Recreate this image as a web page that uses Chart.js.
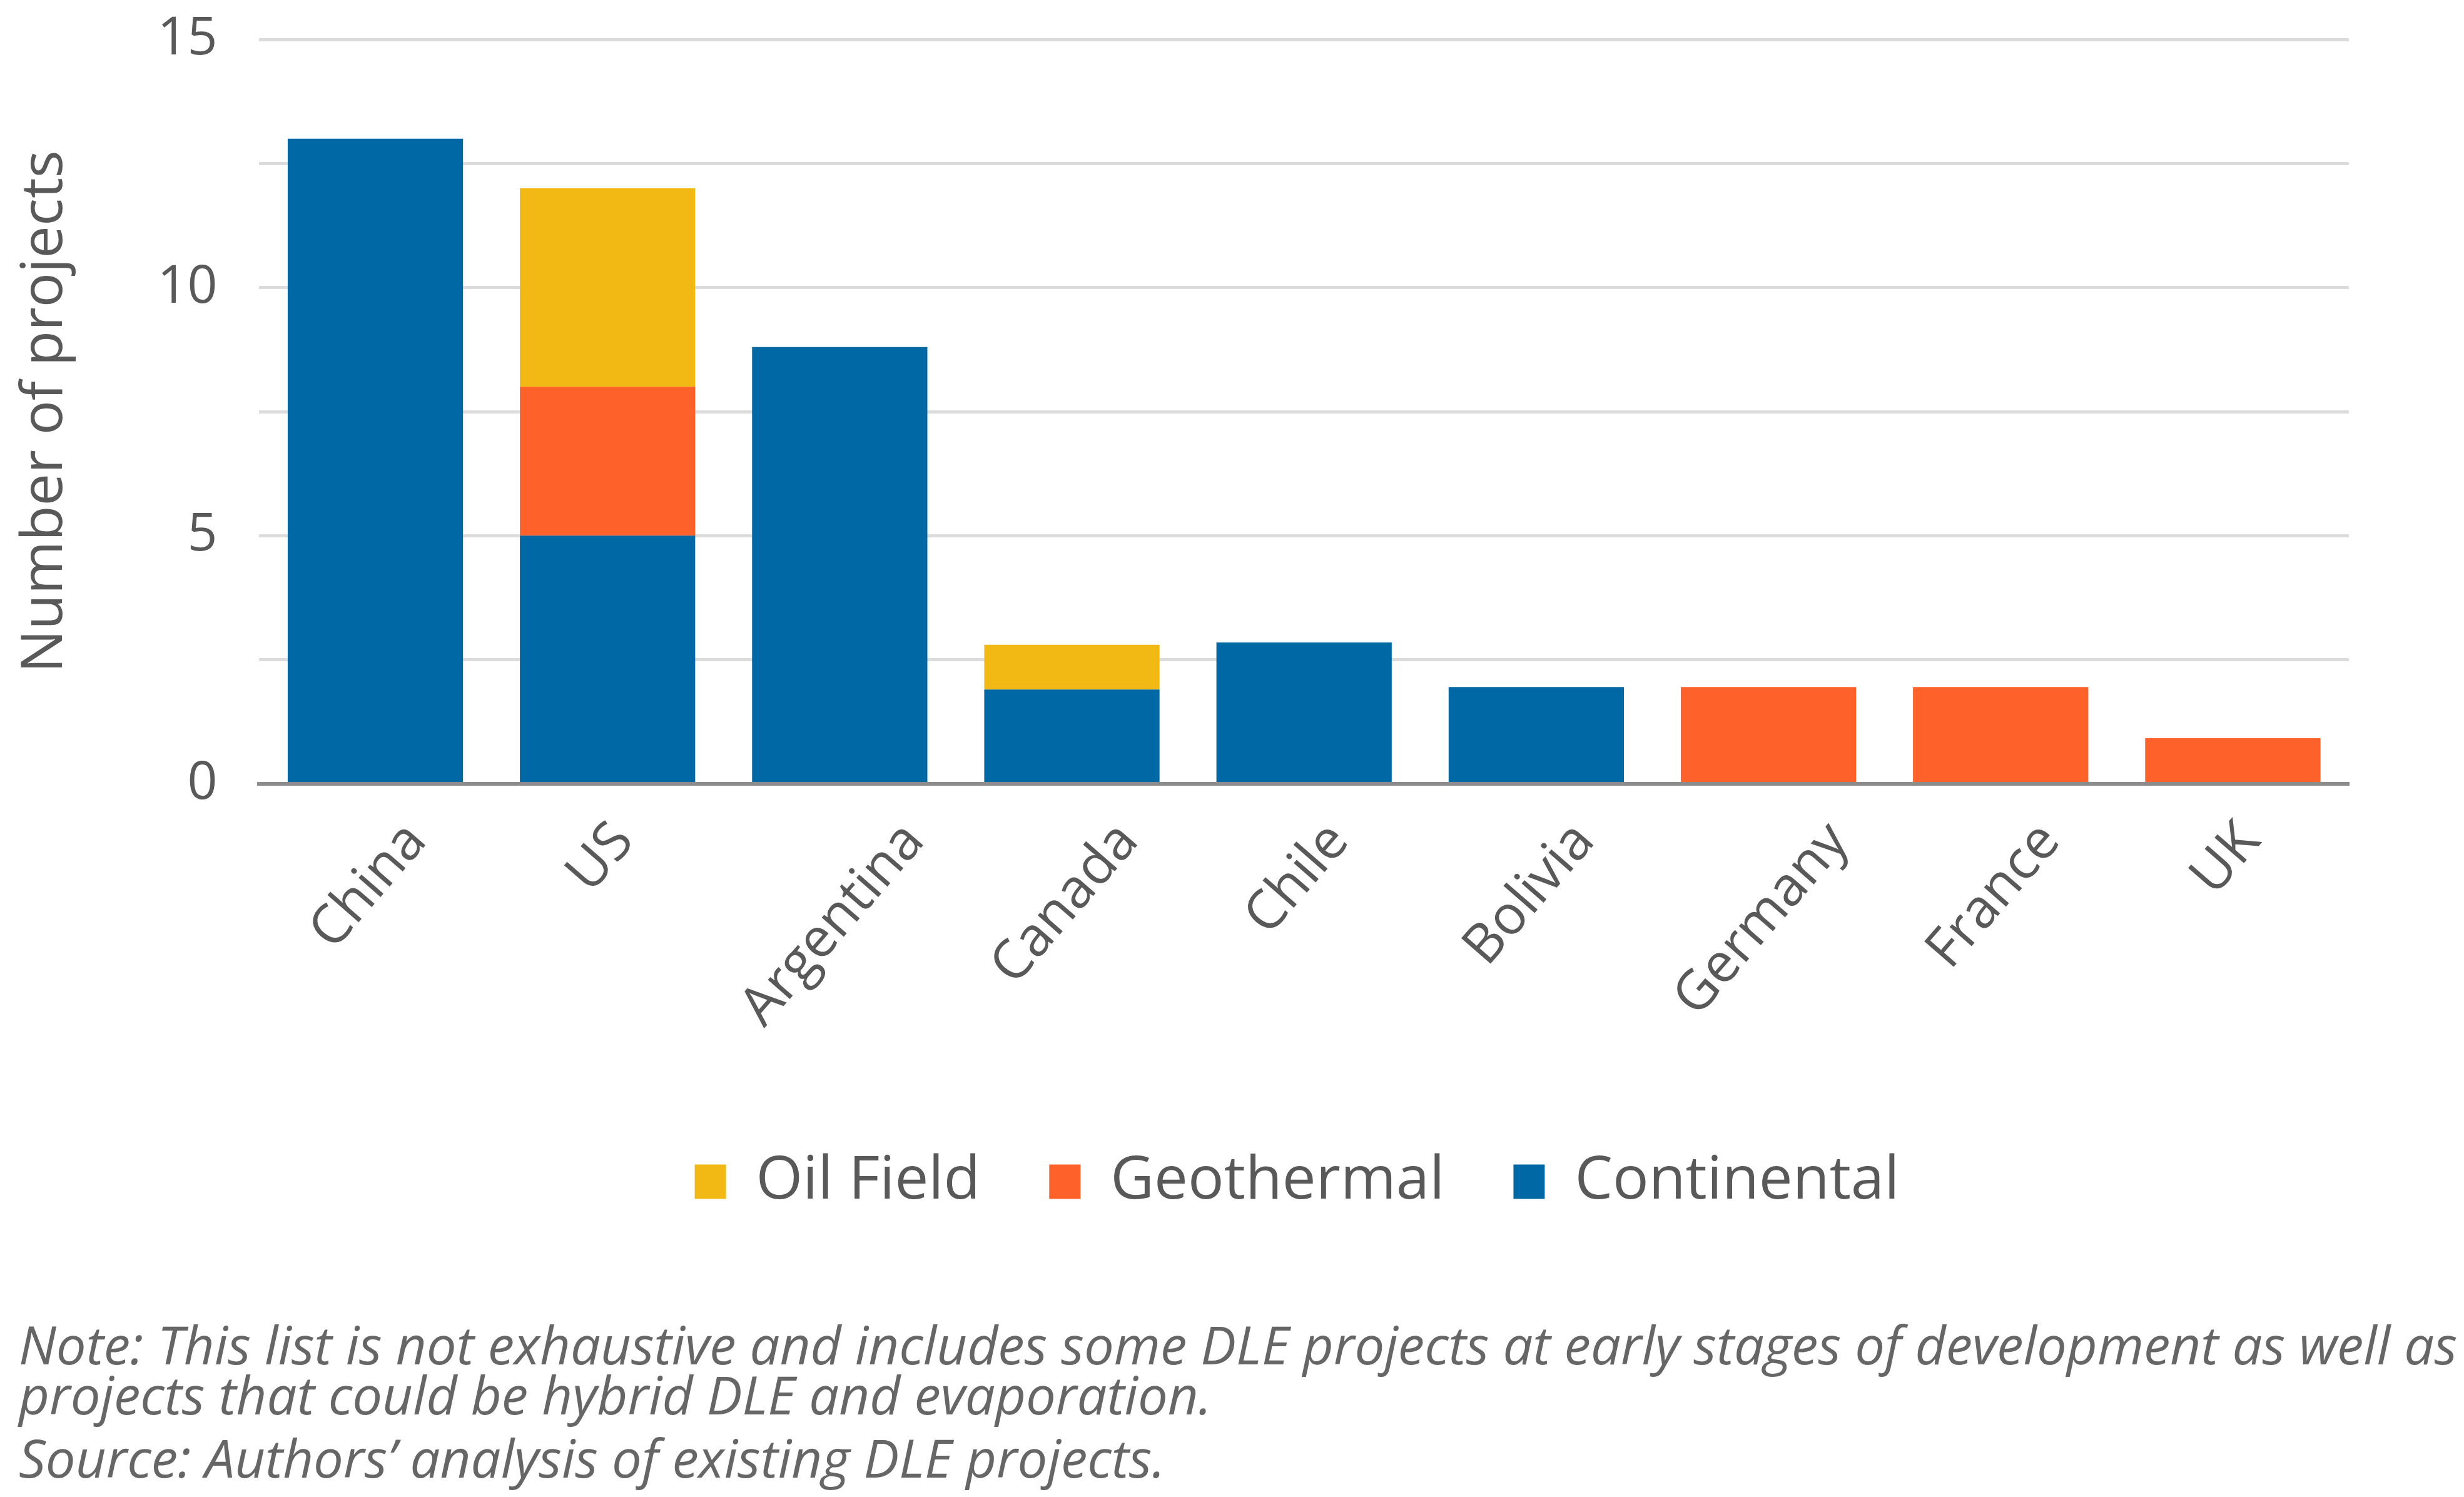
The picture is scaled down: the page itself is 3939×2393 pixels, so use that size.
<!DOCTYPE html>
<html>
<head>
<meta charset="utf-8">
<script src="https://cdn.jsdelivr.net/npm/chart.js@4.4.1/dist/chart.umd.min.js"></script>
<style>
  html, body { margin: 0; padding: 0; background: #fff; }
  body { width: 3939px; height: 2393px; position: relative; overflow: hidden; }
  #wrap { position: absolute; left: 0; top: 0; width: 3939px; height: 1947px; }
  .note {
    position: absolute; left: 30px; color: #666;
    font-family: "Open Sans", sans-serif; font-style: italic;
    font-size: 85px; line-height: 80px; white-space: nowrap;
  }
</style>
</head>
<body>
<div id="wrap"><canvas id="dleChart"></canvas></div>
<div class="note" style="top: 2108px;">Note: This list is not exhaustive and includes some DLE projects at early stages of development as well as<br>projects that could be hybrid DLE and evaporation.</div>
<div class="note" style="top: 2289px;">Source: Authors’ analysis of existing DLE projects.</div>

<script>
  const countries = ["China", "US", "Argentina", "Canada", "Chile", "Bolivia", "Germany", "France", "UK"];
  const continental = [13, 5, 8.8, 1.9, 2.85, 1.95, 0, 0, 0];
  const geothermal = [0, 3, 0, 0, 0, 0, 1.95, 1.95, 0.92];
  const oilField = [0, 4, 0, 0.9, 0, 0, 0, 0, 0];
  const yTicks = [0, 5, 10, 15];

  const gray = "#595959";
  const xFontSize = 87;
  const angle = 49 * Math.PI / 180;

  // x labels: rotated, centred under each bar with the top of the text near the axis
  const xLabels = {
    id: "xLabels",
    afterDraw(chart) {
      const { ctx, scales: { x } } = chart;
      const capH = xFontSize * 0.72;
      const cos = Math.cos(angle), sin = Math.sin(angle);
      ctx.save();
      ctx.font = xFontSize + 'px "Open Sans"';
      ctx.fillStyle = gray;
      ctx.textAlign = "right";
      ctx.textBaseline = "alphabetic";
      x.ticks.forEach((t, i) => {
        const name = chart.data.labels[i];
        const w = ctx.measureText(name).width;
        const px = x.getPixelForTick(i) - 15 + (w * cos + capH * sin) / 2;
        const py = x.top + 52 + capH * cos;
        ctx.save();
        ctx.translate(px, py);
        ctx.rotate(-angle);
        ctx.fillText(name, 0, 0);
        ctx.restore();
      });
      ctx.restore();
    }
  };

  // legend centred on the plot area rather than the whole canvas
  const legendShift = {
    id: "legendShift",
    afterLayout(chart) {
      chart.legend.left += 192;
      chart.legend.right += 192;
    }
  };

  const ctx = document.getElementById("dleChart").getContext("2d");
  new Chart(ctx, {
    type: "bar",
    data: {
      labels: countries,
      datasets: [
        { label: "Continental", data: continental, backgroundColor: "#0069A5" },
        { label: "Geothermal", data: geothermal, backgroundColor: "#FF612B" },
        { label: "Oil Field", data: oilField, backgroundColor: "#F2B813" }
      ]
    },
    plugins: [xLabels, legendShift],
    options: {
      responsive: true,
      maintainAspectRatio: false,
      devicePixelRatio: 1,
      animation: false,
      categoryPercentage: 1,
      barPercentage: 0.755,
      layout: { padding: { top: 0, left: 8, right: 184, bottom: 0 } },
      plugins: {
        legend: {
          position: "bottom",
          reverse: true,
          labels: {
            boxWidth: 50,
            boxHeight: 55,
            padding: 110,
            color: gray,
            font: { family: "Open Sans", size: 96 }
          }
        },
        tooltip: { enabled: false }
      },
      scales: {
        x: {
          stacked: true,
          grid: { display: false },
          border: { color: "#8c8c8c", width: 6 },
          ticks: { display: false },
          afterFit: s => { s.height = 478; }
        },
        y: {
          stacked: true,
          min: 0,
          max: 15,
          border: { display: false },
          grid: {
            drawTicks: false,
            color: c => (c.tick.value === 0 ? "#8c8c8c" : "#dcdcdc"),
            lineWidth: c => (c.tick.value === 0 ? 6 : 5)
          },
          afterFit: s => { s.paddingTop = 63; },
          ticks: {
            stepSize: 2.5,
            autoSkip: false,
            padding: 67,
            color: gray,
            font: { family: "Open Sans", size: 84 },
            callback: v => (yTicks.includes(v) ? v : "")
          },
          title: {
            display: true,
            text: "Number of projects",
            color: gray,
            padding: { top: 10, bottom: 56 },
            font: { family: "Open Sans", size: 92 }
          }
        }
      }
    }
  });
</script>
</body>
</html>
